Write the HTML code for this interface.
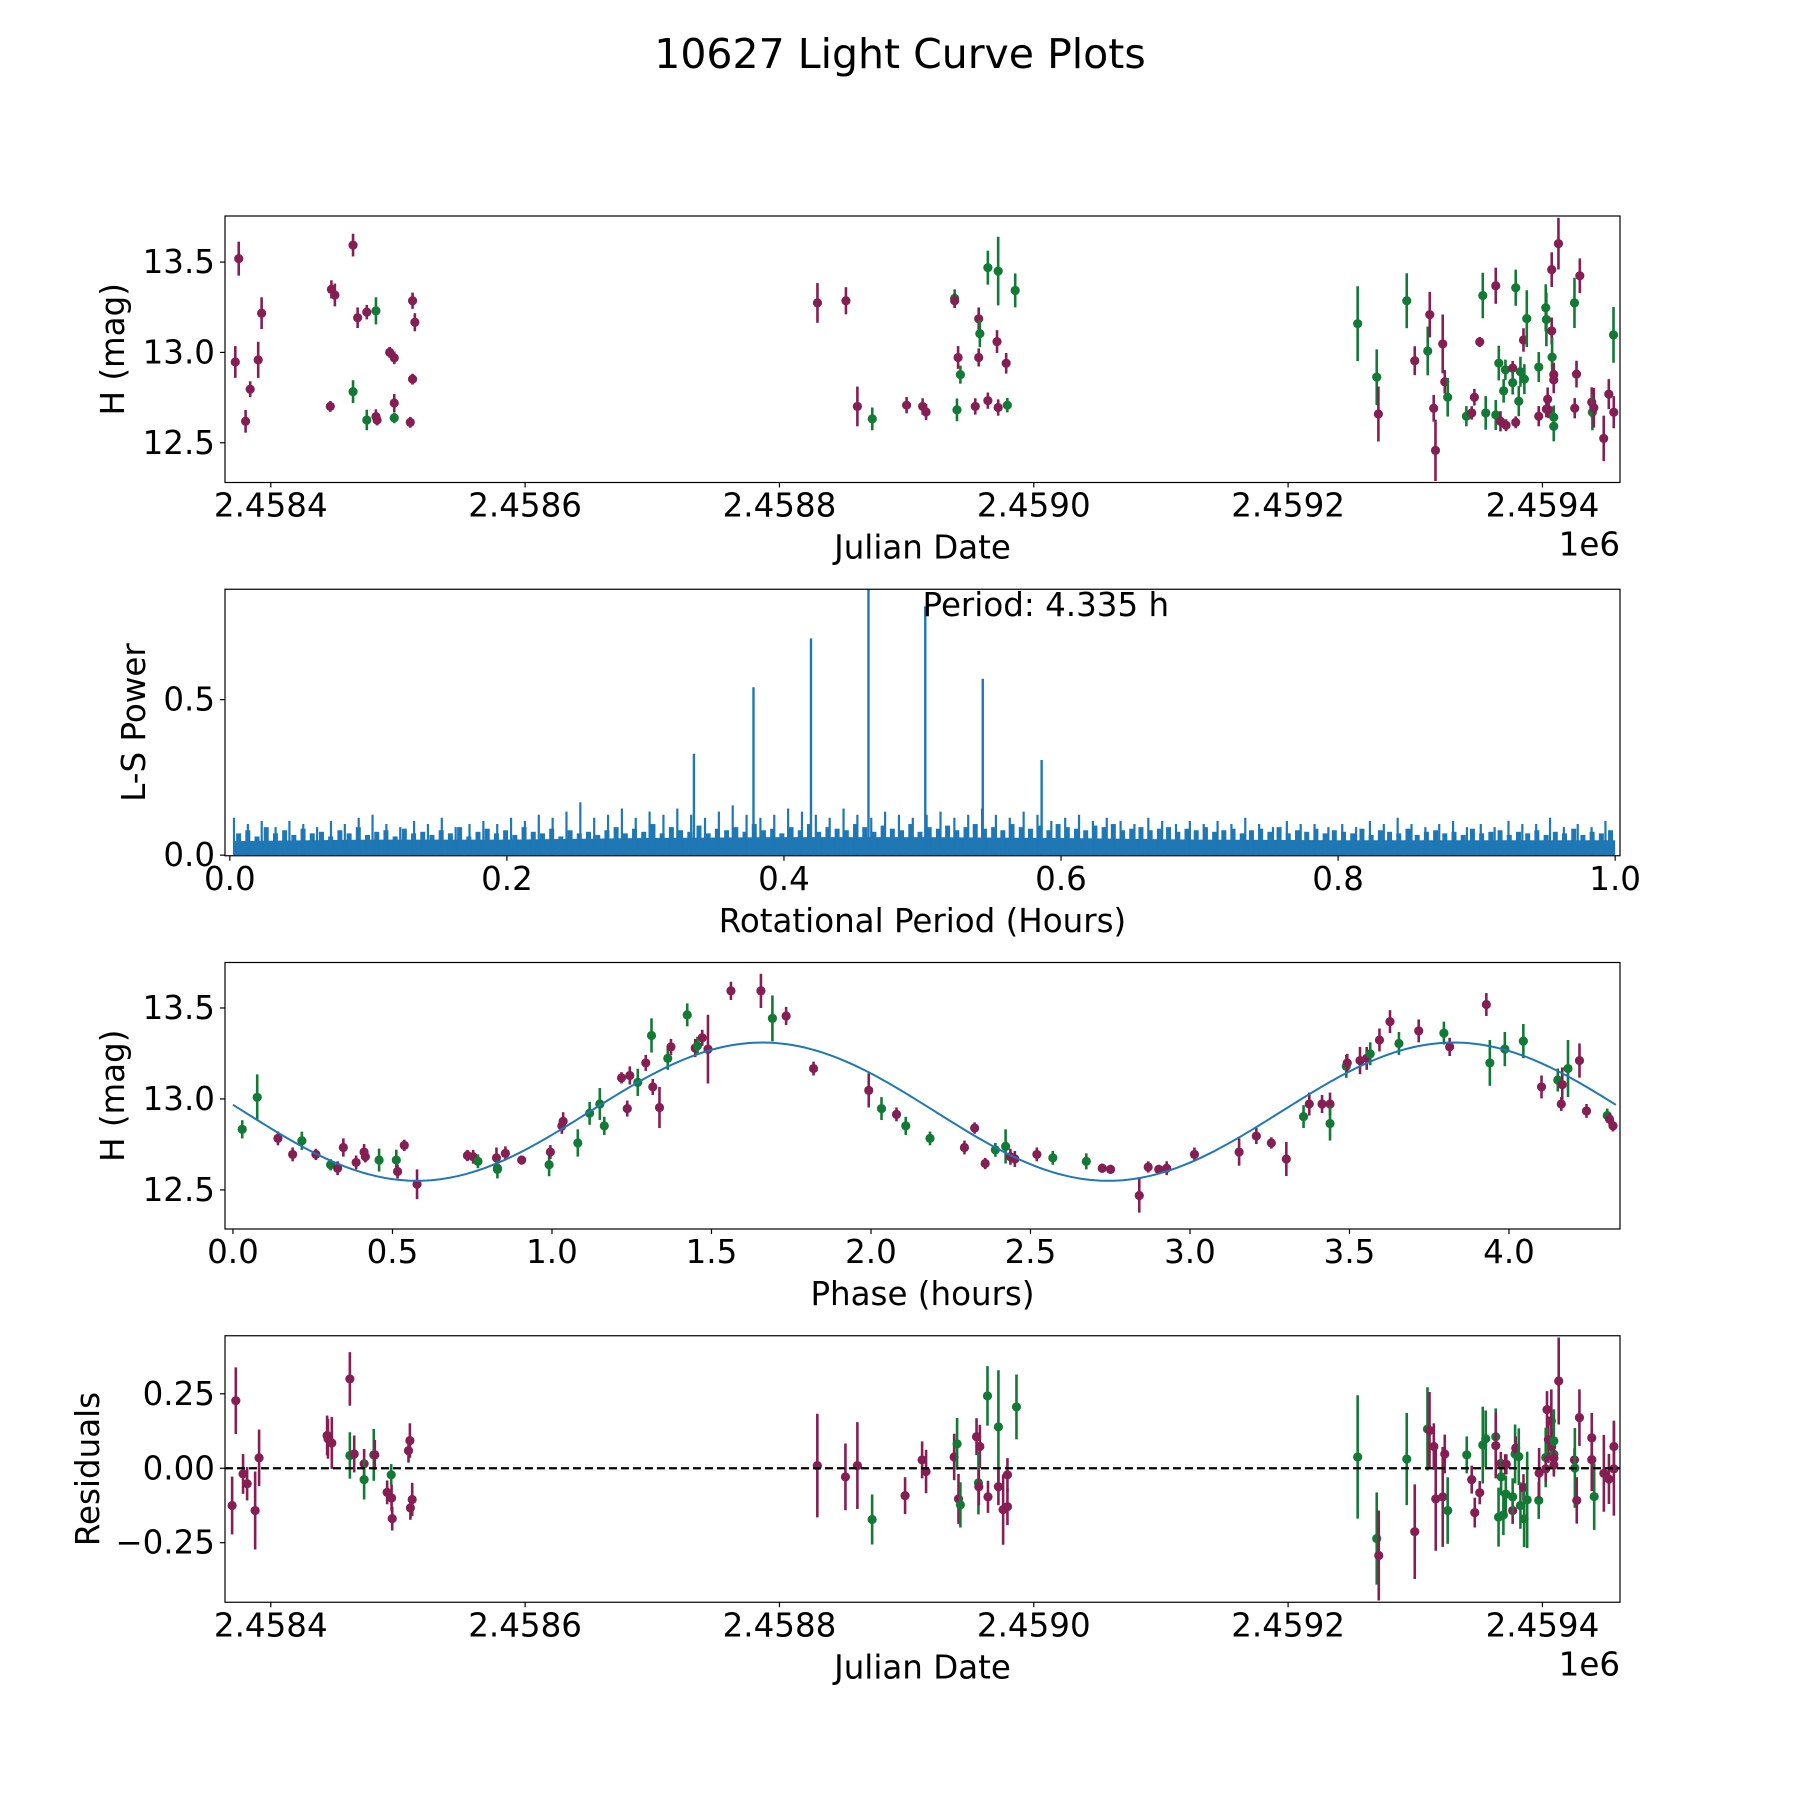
<!DOCTYPE html>
<html><head><meta charset="utf-8"><title>10627 Light Curve Plots</title>
<style>html,body{margin:0;padding:0;background:#fff}svg{display:block}text{font-family:"DejaVu Sans","Liberation Sans",sans-serif;fill:#000}</style>
</head><body>
<svg id="fig" xmlns="http://www.w3.org/2000/svg" width="1800" height="1800" viewBox="0 0 1800 1800">
<rect width="1800" height="1800" fill="#fff"/>
<text x="900" y="54" font-size="41" text-anchor="middle" dominant-baseline="central">10627 Light Curve Plots</text>
</svg>
<script>
// ---------- Panel 1: light curve (JD offset from 2458400) ----------
const JD0 = 2458400;
const lcTime = [-27.9,-25.2,-19.8,-16.2,-9.9,-7.2,46.8,47.7,50.4,64.7,64.7,68.3,75.5,75.5,82.7,82.7,83.6,93.5,97.1,97.1,97.1,109.7,111.5,113.3,111.5,
429.9,452.3,461.3,473.0,500.0,512.6,515.3,537.8,537.8,540.5,539.6,542.3,554.0,556.7,557.6,556.7,563.9,563.9,571.1,572.0,572.0,578.3,579.2,585.4,
854.7,869.7,871,893.3,899.6,909.8,911.4,914.5,915.9,921.6,923.2,925.5,940.2,944.4,946.5,950.7,953.1,955.4,963.3,963.3,965.7,967,969.5,970.9,971.4,976.6,976.6,979,979,981.4,982.7,985.1,985.8,987.7,997.1,997.1,1002.6,1003.1,1003.1,1004.1,1004.9,1007.3,1007.3,1007.6,1008.9,1008.9,1008.9,1008.9,1012.6,1025.2,1025.4,1026.8,1029.4,1038.8,1039.3,1040.4,1048.2,1052.2,1055.9,1056.1];
const lcMag = [12.947,13.519,12.619,12.796,12.959,13.217,12.701,13.349,13.318,12.783,13.594,13.192,13.223,12.626,13.23,12.645,12.626,13.0,12.97,12.72,12.638,12.613,13.286,13.167,12.852,
13.274,13.286,12.701,12.632,12.708,12.701,12.67,13.299,13.286,12.972,12.682,12.877,12.701,13.186,13.104,12.972,12.733,13.469,13.06,13.45,12.695,12.94,12.708,13.343,
13.159,12.863,12.659,13.286,12.954,13.008,13.209,12.691,12.458,13.047,12.837,12.752,12.647,12.665,12.752,13.058,13.315,12.665,13.369,12.654,12.941,12.619,12.787,12.904,12.597,12.913,12.832,13.358,12.613,12.73,12.893,13.069,12.852,13.187,12.919,12.647,13.247,13.182,12.686,12.741,12.682,13.458,13.119,12.974,12.878,12.848,12.641,12.591,13.602,13.274,12.691,12.88,13.424,12.724,12.669,12.694,12.524,12.769,13.097,12.669];
const lcErr = [.088,.094,.063,.044,.10,.088,.03,.05,.063,.063,.063,.057,.04,.057,.075,.04,.03,.03,.035,.05,.03,.03,.045,.05,.03,
.11,.075,.11,.063,.045,.045,.045,.05,.04,.063,.063,.05,.045,.063,.075,.05,.045,.094,.063,.19,.045,.057,.04,.094,
.207,.154,.152,.152,.08,.135,.126,.074,.17,.163,.065,.107,.056,.037,.046,.028,.126,.093,.10,.083,.096,.056,.065,.056,.033,.04,.065,.10,.033,.083,.083,.065,.083,.157,.083,.056,.13,.148,.046,.065,.046,.096,.074,.11,.065,.074,.065,.083,.143,.139,.056,.074,.096,.083,.10,.11,.126,.083,.154,.089];
const lcFilter = ("PPPPPPPPPGPPPGGPPPPPGPPPP"+"PPPGPPPGPPGGPPGPPGPGPPGG"+"GGPGPGPPPPPGGPPPGGPGGPGGPPGGPGGPGGGPGGPPPPPGPPGGPGPPPPGPPPGP").split("");

// ---------- Panel 2: periodogram ----------
const peakPeriods = [0.335,0.378,0.4195,0.461,0.502,0.5435,0.586];
const peakPowers  = [0.326,0.54,0.697,0.95,0.80,0.567,0.306];
const noiseBandX = [0.003,0.1,0.2,0.3,0.4,0.5,0.6,0.7,0.8,0.9,1.0];
const noiseBandY = [0.045,0.05,0.05,0.055,0.058,0.058,0.055,0.05,0.048,0.048,0.048];
const noiseSpikes = [0.12,0.10,0.11,0.09,0.11,0.10,0.09,0.11,0.10,0.12,
0.13,0.10,0.09,0.11,0.10,0.12,0.09,0.10,0.11,0.10,
0.12,0.11,0.13,0.12,0.14,0.17,0.12,0.13,0.15,0.12,
0.14,0.13,0.15,0.13,0.12,0.14,0.16,0.13,0.12,0.13,
0.15,0.14,0.13,0.12,0.15,0.13,0.12,0.14,0.13,0.12,
0.13,0.14,0.12,0.13,0.15,0.13,0.12,0.14,0.13,0.11,
0.12,0.13,0.11,0.12,0.11,0.10,0.12,0.11,0.10,0.11,
0.10,0.11,0.10,0.12,0.10,0.09,0.11,0.10,0.10,0.09,
0.10,0.09,0.11,0.10,0.12,0.10,0.09,0.10,0.11,0.09,
0.10,0.09,0.11,0.10,0.10,0.12,0.09,0.10,0.09,0.11];
const noiseRipple = [0.07,0.08,0.06,0.09,0.07,0.08,0.065,0.085,0.07,0.075,0.06,0.08,0.07,0.09,0.065,0.075,0.08,0.06,0.085,0.07,
0.075,0.065,0.08,0.07,0.09,0.06,0.075,0.085,0.07,0.08,0.065,0.09,0.075,0.07,0.085,0.06,0.08,0.07,0.075,0.065,
0.08,0.09,0.07,0.085,0.075,0.1,0.07,0.09,0.08,0.075,0.095,0.07,0.085,0.08,0.09,0.075,0.1,0.08,0.085,0.07,
0.09,0.08,0.1,0.075,0.09,0.085,0.08,0.1,0.09,0.075,0.095,0.085,0.08,0.1,0.075,0.09,0.085,0.095,0.08,0.09,
0.1,0.085,0.09,0.08,0.1,0.09,0.085,0.095,0.08,0.1,0.09,0.085,0.08,0.095,0.09,0.1,0.08,0.085,0.09,0.08,
0.085,0.09,0.075,0.085,0.08,0.09,0.075,0.08,0.085,0.07,0.08,0.085,0.075,0.09,0.07,0.08,0.075,0.085,0.07,0.08,
0.075,0.07,0.085,0.065,0.08,0.075,0.07,0.085,0.065,0.075,0.08,0.07,0.075,0.065,0.085,0.07,0.075,0.08,0.065,0.075,
0.07,0.08,0.065,0.075,0.07,0.085,0.065,0.075,0.07,0.08];
const bestPeriodLabel = "Period: 4.335 h";

// ---------- Panel 3: phased ----------
const phase = [0.029,0.076,0.141,0.187,0.216,0.26,0.306,0.328,0.346,0.386,0.411,0.415,0.458,0.512,0.516,0.537,0.577,0.735,0.753,0.768,0.826,0.829,0.829,0.854,0.905,0.991,0.995,1.031,1.035,1.081,1.118,1.15,1.164,1.218,1.236,1.244,1.269,1.294,1.312,1.316,1.337,1.363,1.373,1.424,1.449,1.456,1.471,1.489,1.561,1.655,1.691,1.734,1.82,1.993,2.033,2.08,2.109,2.185,2.293,2.325,2.358,2.39,2.422,2.437,2.451,2.52,2.57,2.675,2.725,2.751,2.841,2.869,2.902,2.927,3.014,3.154,3.208,3.255,3.302,3.356,3.374,3.414,3.439,3.439,3.49,3.493,3.533,3.554,3.565,3.594,3.627,3.655,3.717,3.796,3.814,3.929,3.94,3.987,4.045,4.102,4.153,4.164,4.167,4.185,4.221,4.243,4.308,4.315,4.326];
const phaseMag = [12.833,13.009,12.783,12.695,12.77,12.695,12.638,12.619,12.733,12.651,12.708,12.682,12.664,12.664,12.601,12.745,12.531,12.689,12.682,12.657,12.676,12.619,12.613,12.701,12.664,12.638,12.708,12.852,12.877,12.758,12.921,12.972,12.852,13.116,12.947,13.129,13.091,13.198,13.349,13.066,12.953,13.223,13.286,13.462,13.28,13.292,13.336,13.274,13.594,13.594,13.443,13.456,13.167,13.047,12.947,12.915,12.852,12.783,12.733,12.84,12.645,12.72,12.739,12.682,12.67,12.695,12.676,12.657,12.619,12.613,12.469,12.626,12.613,12.619,12.695,12.708,12.796,12.758,12.67,12.903,12.972,12.972,12.972,12.865,13.179,13.198,13.211,13.223,13.248,13.324,13.425,13.305,13.374,13.362,13.286,13.519,13.198,13.274,13.318,13.066,13.104,12.972,13.079,13.167,13.211,12.934,12.909,12.89,12.852];
const phaseErr = [.05,.126,.038,.038,.05,.031,.031,.038,.05,.038,.044,.031,.063,.057,.038,.031,.082,.031,.038,.038,.057,.031,.05,.038,.025,.063,.038,.044,.05,.075,.063,.088,.05,.031,.044,.05,.075,.044,.094,.044,.113,.063,.044,.063,.05,.05,.044,.189,.05,.094,.126,.05,.038,.094,.063,.038,.05,.038,.038,.031,.031,.038,.094,.044,.044,.038,.038,.044,.025,.025,.094,.031,.025,.038,.038,.075,.044,.031,.094,.063,.063,.05,.063,.094,.063,.05,.075,.063,.063,.063,.063,.063,.063,.063,.05,.063,.126,.094,.094,.063,.063,.038,.094,.157,.094,.038,.038,.031,.031];
const phaseFilter = ("GGPPGPGPPP"+"PPGGPPPPPG"+"PPGPPGPPPG"+"GGGPPPGPGP"+"PGPGPGPPPP"+"GPPPGPGGPP"+"PGGPPPGGPP"+"PPPPPPPPPG"+"PPPGGPPPGP"+"PGPGPPGGGP"+"GPPGPPGPP").split("");
const modelMean = 12.93, modelAmp = 0.38, modelPeakPhase = 1.66, modelCycle = 2.1675, foldPeriod = 4.335;

// ---------- Panel 4: residuals ----------
const resTime = [-30.4,-27.5,-21.8,-18.6,-12.3,-9.2,44.3,45.0,48,62.2,62.2,65.6,73.4,73.4,81,81.8,91.5,94.7,95,95.5,108.3,109.4,109.8,111.2,
429.8,451.9,461.3,472.9,498.8,512.2,515.3,537.4,539.7,540.8,542.3,555,557.6,556.5,556.8,563.6,564,572.2,572.2,575.9,579.3,579.3,586.4,
854.7,869.7,871.3,893.3,899.6,909.6,911.2,914.6,916.1,921.6,923.2,925.5,940.5,944.4,946.8,950.7,953.1,955.4,963.3,963.3,965.5,967.3,967.5,969.3,970.7,971.2,971.6,976.6,976.6,978.5,979,981.4,982.7,985.1,985.6,988,997.1,997.4,1002.6,1002.6,1003.6,1004.7,1007,1007.3,1009,1009,1009,1009,1012.8,1025.2,1025.5,1027,1029.1,1038.8,1038.8,1040.7,1048.3,1052.3,1056.2,1056.2];
const resVal = [-.125,.227,-.019,-.052,-.142,.035,.11,.099,.085,.30,.043,.048,.015,-.038,.045,.045,-.081,-.022,-.1,-.169,.059,.093,-.133,-.105,
.009,-.029,.009,-.172,-.092,.028,-.011,.038,.082,-.103,-.123,.106,.073,-.049,-.062,.243,-.096,.139,-.062,-.139,-.129,-.022,.206,
.038,-.236,-.293,.031,-.213,.132,.127,.073,-.103,-.096,.048,-.142,.045,-.038,-.149,-.082,.078,.099,.106,.076,-.164,.016,-.029,-.157,.013,-.087,.013,-.142,-.096,.048,.068,.039,-.125,-.065,-.17,-.106,-.108,-.016,.036,-.002,.197,.096,.159,.073,.092,.047,.034,.011,.293,.028,.001,-.108,.17,.102,.029,-.095,-.017,-.036,-.002,.073];
const resErr = [.097,.112,.067,.056,.131,.095,.067,.067,.087,.09,.078,.062,.05,.067,.087,.05,.04,.036,.045,.04,.04,.058,.04,.056,
.174,.112,.146,.084,.062,.062,.073,.078,.087,.084,.076,.062,.073,.106,.062,.1,.054,.19,.062,.118,.062,.056,.109,
.207,.155,.151,.155,.159,.14,.129,.078,.174,.168,.065,.112,.062,.047,.05,.039,.129,.095,.095,.11,.099,.039,.062,.067,.034,.062,.034,.045,.062,.099,.039,.095,.078,.045,.095,.162,.062,.084,.1,.045,.062,.078,.106,.062,.106,.05,.039,.039,.146,.039,.134,.078,.095,.084,.106,.112,.129,.084,.157,.087];
const resFilter = ("PPPPPPPPPPGPPGGPPGPPPPPP"+"PPPGPPPPGPGPPGPGPGPPPPG"+"GGPGPGPPPPPGGPPPGGGPGPGGPGPPGGPGGPGGGPGPPPPPGGPPPPGPPPPGPPPPGP").split("");

// ---------- drawing ----------
const NS = "http://www.w3.org/2000/svg";
const svg = document.getElementById("fig");
const COL = {P:"#851e52", G:"#137a35"};
const AX_L = 225, AX_R = 1620, AX_H = 266.5;
const TOPS = [216, 589.25, 962.5, 1335.75];
const FS = 32.5;
function mk(tag, attrs, parent) {
  const e = document.createElementNS(NS, tag);
  for (const k in attrs) e.setAttribute(k, attrs[k]);
  (parent || svg).appendChild(e);
  return e;
}
function lin(d0, d1, p0, p1) { return v => p0 + (v - d0) / (d1 - d0) * (p1 - p0); }

function makeAxes(i, name, xlim, ylim) {
  const top = TOPS[i], bot = top + AX_H;
  const g = mk("g", {});
  
  
  const cp = mk("clipPath", {id: "clip" + i}, g);
  mk("rect", {x: AX_L, y: top, width: AX_R - AX_L, height: AX_H}, cp);
  const plot = mk("g", {"clip-path": "url(#clip" + i + ")"}, g);
  
  
  return {g, plot, top, bot, sx: lin(xlim[0], xlim[1], AX_L, AX_R), sy: lin(ylim[0], ylim[1], bot, top)};
}
function frame(ax, name) {
  const r = mk("rect", {x: AX_L, y: ax.top, width: AX_R - AX_L, height: AX_H, fill: "none", stroke: "#000", "stroke-width": 1.2}, ax.g);
  
  
}
function xTicks(ax, vals, labels, name) {
  const g = mk("g", {}, ax.g);
  
  
  vals.forEach((v, k) => {
    const x = ax.sx(v);
    mk("line", {x1: x, x2: x, y1: ax.bot, y2: ax.bot + 5, stroke: "#000", "stroke-width": 1.2}, g);
    const t = mk("text", {x: x, y: ax.bot + 34, "font-size": FS, "text-anchor": "middle"}, g);
    t.textContent = labels[k];
  });
}
function yTicks(ax, vals, labels, name) {
  const g = mk("g", {}, ax.g);
  
  
  vals.forEach((v, k) => {
    const y = ax.sy(v);
    mk("line", {x1: AX_L - 5, x2: AX_L, y1: y, y2: y, stroke: "#000", "stroke-width": 1.2}, g);
    const t = mk("text", {x: AX_L - 10, y: y, "font-size": FS, "text-anchor": "end", "dominant-baseline": "central"}, g);
    t.textContent = labels[k];
  });
}
function xLabel(ax, txt, name) {
  const t = mk("text", {x: (AX_L + AX_R) / 2, y: ax.bot + 76, "font-size": FS, "text-anchor": "middle"}, ax.g);
  
  
  t.textContent = txt;
}
function yLabel(ax, txt, x, name) {
  const cy = ax.top + AX_H / 2;
  const t = mk("text", {x: x, y: cy, "font-size": FS, "text-anchor": "middle", "dominant-baseline": "central", transform: "rotate(-90 " + x + " " + cy + ")"}, ax.g);
  
  
  t.textContent = txt;
}
function offsetText(ax, name) {
  const t = mk("text", {x: AX_R, y: ax.bot + 73, "font-size": FS, "text-anchor": "end"}, ax.g);
  
  
  t.textContent = "1e6";
}
function errPoints(ax, xs, ys, es, fs, name) {
  const g = mk("g", {}, ax.plot);
  
  
  xs.forEach((xv, k) => {
    const x = ax.sx(xv), c = COL[fs[k]];
    const ln = mk("line", {x1: x, x2: x, y1: ax.sy(ys[k] - es[k]), y2: ax.sy(ys[k] + es[k]), stroke: c, "stroke-width": 2.6}, g);
    
    
    const d = mk("circle", {cx: x, cy: ax.sy(ys[k]), r: 4.6, fill: c}, g);
    
    
  });
}

const jdLim = [2458364 - JD0, 2459461 - JD0];
const jdTickVals = [0, 200, 400, 600, 800, 1000];
const jdTickLabels = ["2.4584", "2.4586", "2.4588", "2.4590", "2.4592", "2.4594"];

// Panel 1
const a1 = makeAxes(0, "light-curve-panel", jdLim, [12.28, 13.755]);
errPoints(a1, lcTime, lcMag, lcErr, lcFilter, "light-curve-series");
frame(a1, "light-curve");
xTicks(a1, jdTickVals, jdTickLabels, "light-curve-x-ticks");
yTicks(a1, [12.5, 13.0, 13.5], ["12.5", "13.0", "13.5"], "light-curve-y-ticks");
xLabel(a1, "Julian Date", "light-curve-x-axis-title");
yLabel(a1, "H (mag)", 113, "light-curve-y-axis-title");
offsetText(a1, "light-curve-x-offset");

// Panel 2
const a2 = makeAxes(1, "periodogram-panel", [-0.0035, 1.0035], [-0.002, 0.855]);
{
  const g = mk("g", {}, a2.plot);
  
  
  let pts = noiseBandX.map((x, k) => a2.sx(x) + "," + a2.sy(noiseBandY[k])).join(" ");
  pts += " " + a2.sx(1.0) + "," + a2.sy(0) + " " + a2.sx(0.003) + "," + a2.sy(0);
  const band = mk("polygon", {points: pts, fill: "#1f77b4"}, g);
  
  
  const nr = noiseRipple.length;
  noiseRipple.forEach((v, k) => {
    const x = a2.sx(0.003 + 0.997 * (k + 0.5) / nr);
    const s = mk("rect", {x: x - 2.5, y: a2.sy(v), width: 5, height: a2.sy(0) - a2.sy(v), fill: "#1f77b4"}, g);
    
    
  });
  const n = noiseSpikes.length;
  noiseSpikes.forEach((v, k) => {
    const x = a2.sx((k + 0.3) / n);
    const s = mk("line", {x1: x, x2: x, y1: a2.sy(0), y2: a2.sy(v), stroke: "#1f77b4", "stroke-width": 2.2}, g);
    
    
  });
  peakPeriods.forEach((p, k) => {
    const x = a2.sx(p);
    const s = mk("line", {x1: x, x2: x, y1: a2.sy(0), y2: a2.sy(peakPowers[k]), stroke: "#1f77b4", "stroke-width": 2.4}, g);
    
    
  });
}
{
  const t = mk("text", {x: a2.sx(0.5), y: a2.sy(0.769), "font-size": FS}, a2.g);
  
  
  t.textContent = bestPeriodLabel;
}
frame(a2, "periodogram");
xTicks(a2, [0, 0.2, 0.4, 0.6, 0.8, 1.0], ["0.0", "0.2", "0.4", "0.6", "0.8", "1.0"], "periodogram-x-ticks");
yTicks(a2, [0, 0.5], ["0.0", "0.5"], "periodogram-y-ticks");
xLabel(a2, "Rotational Period (Hours)", "periodogram-x-axis-title");
yLabel(a2, "L-S Power", 134, "periodogram-y-axis-title");

// Panel 3
const a3 = makeAxes(2, "phased-curve-panel", [-0.025, 4.348], [12.285, 13.75]);
errPoints(a3, phase, phaseMag, phaseErr, phaseFilter, "phased-series");
{
  let d = "";
  for (let k = 0; k <= 300; k++) {
    const p = foldPeriod * k / 300;
    const m = modelMean + modelAmp * Math.cos(2 * Math.PI * (p - modelPeakPhase) / modelCycle);
    d += (k ? "L" : "M") + a3.sx(p).toFixed(2) + "," + a3.sy(m).toFixed(2);
  }
  const path = mk("path", {d: d, fill: "none", stroke: "#1f77b4", "stroke-width": 2}, a3.plot);
  
  
}
frame(a3, "phased-curve");
xTicks(a3, [0, 0.5, 1, 1.5, 2, 2.5, 3, 3.5, 4], ["0.0", "0.5", "1.0", "1.5", "2.0", "2.5", "3.0", "3.5", "4.0"], "phased-x-ticks");
yTicks(a3, [12.5, 13.0, 13.5], ["12.5", "13.0", "13.5"], "phased-y-ticks");
xLabel(a3, "Phase (hours)", "phased-x-axis-title");
yLabel(a3, "H (mag)", 113, "phased-y-axis-title");

// Panel 4
const a4 = makeAxes(3, "residuals-panel", jdLim, [-0.45, 0.445]);
errPoints(a4, resTime, resVal, resErr, resFilter, "residual-series");
{
  const z = mk("line", {x1: AX_L, x2: AX_R, y1: a4.sy(0), y2: a4.sy(0), stroke: "#000", "stroke-width": 2.2, "stroke-dasharray": "8 4"}, a4.plot);
  
  
}
frame(a4, "residuals");
xTicks(a4, jdTickVals, jdTickLabels, "residuals-x-ticks");
yTicks(a4, [-0.25, 0, 0.25], ["\u22120.25", "0.00", "0.25"], "residuals-y-ticks");
xLabel(a4, "Julian Date", "residuals-x-axis-title");
yLabel(a4, "Residuals", 88, "residuals-y-axis-title");
offsetText(a4, "residuals-x-offset");
</script>
</body></html>
